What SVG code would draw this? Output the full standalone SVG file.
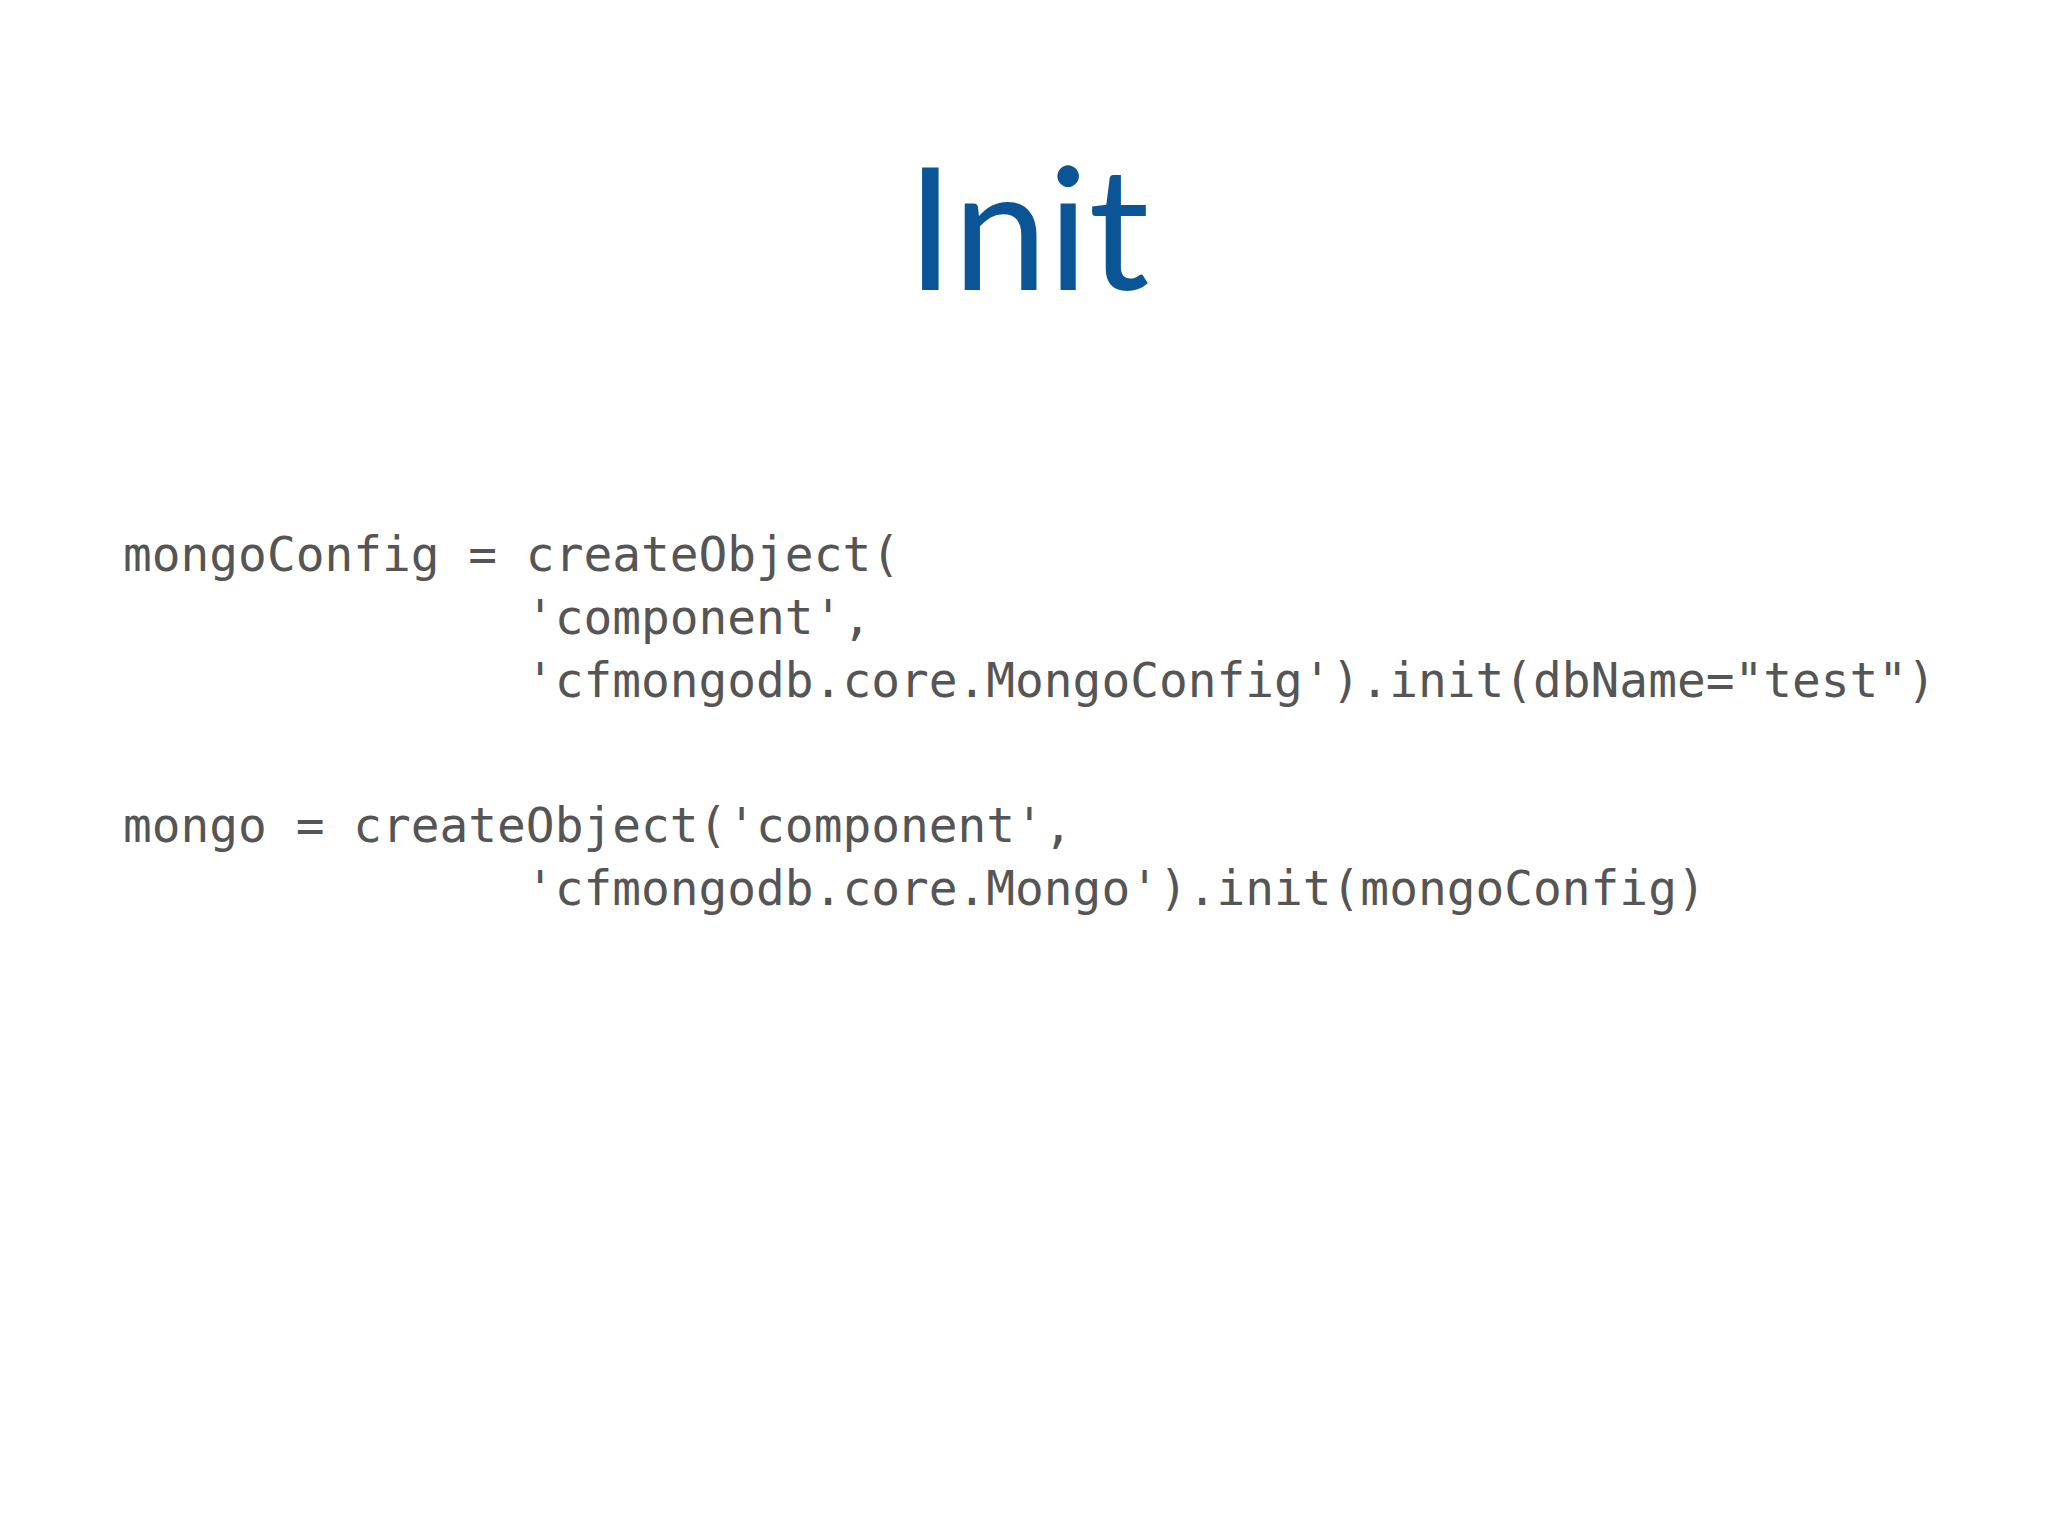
<svg xmlns="http://www.w3.org/2000/svg" width="2048" height="1536" viewBox="0 0 2048 1536">
<style>
.t{font-family:"Gill Sans","Lato","Open Sans",sans-serif;font-size:170px;fill:#0b5597;text-anchor:middle}
.c{font-family:"DejaVu Sans Mono","Liberation Mono",monospace;font-size:47.8px;fill:#555555;white-space:pre}
</style>
<rect width="2048" height="1536" fill="#ffffff"/>
<g id="title"><text class="t" x="1028" y="290">Init</text></g>
<g id="code" xml:space="preserve">
<text class="c" x="123" y="571">mongoConfig = createObject(</text>
<text class="c" x="123" y="634">              'component',</text>
<text class="c" x="123" y="697">              'cfmongodb.core.MongoConfig').init(dbName="test")</text>
<text class="c" x="123" y="842">mongo = createObject('component',</text>
<text class="c" x="123" y="905">              'cfmongodb.core.Mongo').init(mongoConfig)</text>
</g>
</svg>
